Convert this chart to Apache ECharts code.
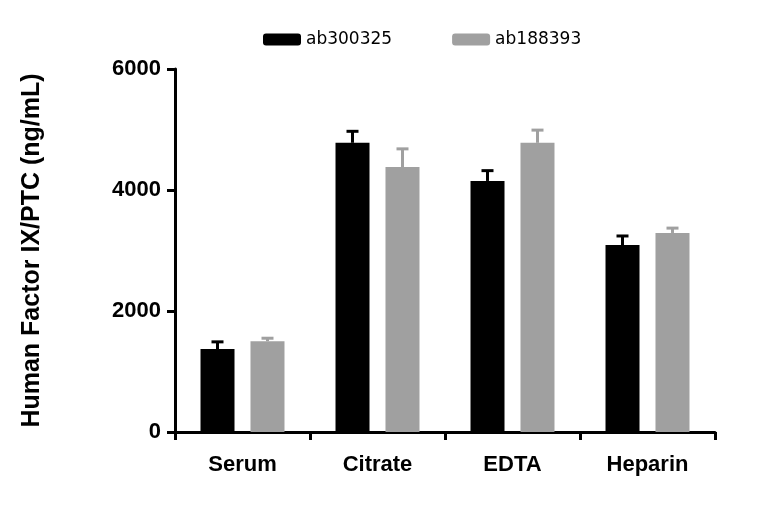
<!DOCTYPE html>
<html>
<head>
<meta charset="UTF-8" />
<script src="https://cdn.jsdelivr.net/npm/echarts@6/dist/echarts.min.js"></script>
</head>
<body style="margin:0">
<div id="main" style="width:768px;height:509px"></div>
<script>
let categories = ["Serum", "Citrate", "EDTA", "Heparin"];
let seriesNames = ["ab300325", "ab188393"];
let blackValues = [1370, 4780, 4150, 3090];
let blackErrors = [120, 190, 170, 150];
let grayValues = [1500, 4380, 4780, 3290];
let grayErrors = [50, 300, 210, 80];
let yTicks = [0, 2000, 4000, 6000];

let colors = ["#000000", "#a0a0a0"];

function errorSeries(values, errors, color, offset) {
  return {
    type: "custom",
    silent: true,
    z: 1,
    data: values.map((v, i) => [i, v, v + errors[i]]),
    renderItem: function (params, api) {
      let base = api.coord([api.value(0), api.value(1)]);
      let top = api.coord([api.value(0), api.value(2)]);
      let x = base[0] + offset;
      return {
        type: "group",
        children: [
          { type: "line", shape: { x1: x, y1: base[1], x2: x, y2: top[1] }, style: { stroke: color, lineWidth: 3 } },
          { type: "line", shape: { x1: x - 6, y1: top[1], x2: x + 6, y2: top[1] }, style: { stroke: color, lineWidth: 3 } },
        ],
      };
    },
  };
}

let myChart = echarts.init(document.getElementById("main"));
myChart.setOption({
  animation: false,
  grid: { left: 175, right: 53, top: 69, bottom: 77 },
  legend: {
    top: 26,
    left: 258,
    itemWidth: 38,
    itemHeight: 12,
    itemGap: 60,
    itemStyle: { borderRadius: 0 },
    textStyle: { fontSize: 17, color: "#000", fontFamily: "DejaVu Sans" },
    data: seriesNames,
  },
  xAxis: {
    type: "category",
    data: categories,
    axisLine: { lineStyle: { color: "#000", width: 3 } },
    axisTick: { show: true, length: 8, lineStyle: { color: "#000", width: 3 } },
    axisLabel: { fontSize: 22, fontWeight: "bold", color: "#000", margin: 22, fontFamily: "Liberation Sans" },
  },
  yAxis: {
    type: "value",
    min: 0,
    max: 6000,
    interval: 2000,
    name: "Human Factor IX/PTC (ng/mL)",
    nameLocation: "middle",
    nameGap: 130,
    nameTextStyle: { fontSize: 25, fontWeight: "bold", color: "#000", fontFamily: "Liberation Sans" },
    splitLine: { show: false },
    axisLine: { show: true, lineStyle: { color: "#000", width: 3 } },
    axisTick: { show: true, length: 8, lineStyle: { color: "#000", width: 3 } },
    axisLabel: { fontSize: 22, fontWeight: "bold", color: "#000", margin: 14, fontFamily: "Liberation Sans", formatter: (v) => String(v) },
  },
  series: [
    { name: seriesNames[0], type: "bar", data: blackValues, itemStyle: { color: colors[0] }, barWidth: 34, barGap: "47%", z: 2 },
    { name: seriesNames[1], type: "bar", data: grayValues, itemStyle: { color: colors[1] }, barWidth: 34, z: 2 },
    errorSeries(blackValues, blackErrors, colors[0], -25),
    errorSeries(grayValues, grayErrors, colors[1], 25),
  ],
});
</script>
</body>
</html>
